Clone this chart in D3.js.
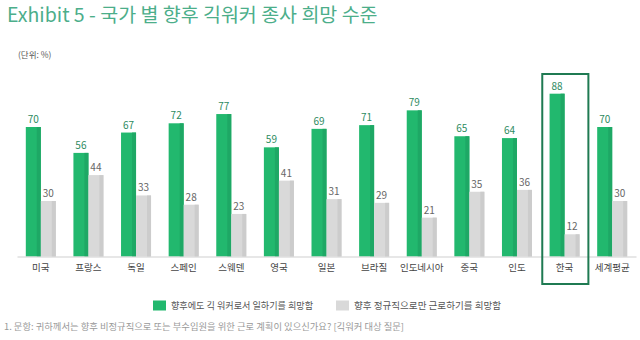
<!DOCTYPE html>
<html>
<head>
<meta charset="utf-8">
<script src="https://cdn.jsdelivr.net/npm/d3@7"></script>
<style>
  html, body { margin: 0; padding: 0; background: #fff; }
  svg { display: block; font-family: "Noto Sans CJK KR", "Noto Sans", sans-serif; }
</style>
</head>
<body>
<svg id="chart" width="640" height="340"></svg>
<script>
// Countries along the x axis
const categories = ["미국", "프랑스", "독일", "스페인", "스웨덴", "영국", "일본", "브라질", "인도네시아", "중국", "인도", "한국", "세계평균"];
// Share wishing to keep working as a gig worker (%)
const gigValues = [70, 56, 67, 72, 77, 59, 69, 71, 79, 65, 64, 88, 70];
// Share wishing to work only as a regular employee (%)
const regularValues = [30, 44, 33, 28, 23, 41, 31, 29, 21, 35, 36, 12, 30];
const seriesNames = ["향후에도 긱 워커로서 일하기를 희망함", "향후 정규직으로만 근로하기를 희망함"];
const highlighted = "한국";

const svg = d3.select("#chart");
const green = "#22b86e", greenDark = "#1ea865";
const gray = "#d9d9d9", grayDark = "#cccccc";

// Title and unit note
svg.append("text").attr("x", 7).attr("y", 22)
  .attr("font-size", 19.5).attr("fill", "#4cae8a")
  .text("Exhibit 5 - 국가 별 향후 긱워커 종사 희망 수준");
svg.append("text").attr("x", 18).attr("y", 58)
  .attr("font-size", 8.5).attr("fill", "#555")
  .text("(단위: %)");

const x = d3.scaleBand().domain(categories).range([17, 636]).paddingInner(0).paddingOuter(0);
const y = d3.scaleLinear().domain([0, 100]).range([256.5, 71.5]);
const barW = 15;

const series = [
  { name: seriesNames[0], values: gigValues, fill: green, edge: greenDark, label: "#2e8b5f", offset: -barW },
  { name: seriesNames[1], values: regularValues, fill: gray, edge: grayDark, label: "#666", offset: 0 }
];

series.forEach(s => {
  const g = svg.append("g");
  categories.forEach((c, i) => {
    const v = s.values[i];
    const bx = x(c) + x.bandwidth() / 2 + s.offset;
    g.append("rect").attr("x", bx).attr("y", y(v)).attr("width", barW).attr("height", y(0) - y(v)).attr("fill", s.fill);
    g.append("rect").attr("x", bx + barW - 4).attr("y", y(v)).attr("width", 4).attr("height", y(0) - y(v)).attr("fill", s.edge);
    g.append("text").attr("x", bx + barW / 2).attr("y", y(v) - 4)
      .attr("text-anchor", "middle").attr("font-size", 10).attr("fill", s.label)
      .text(v);
  });
});

// Baseline
const axis = d3.axisBottom(x).tickSize(0).tickPadding(8);
const ax = svg.append("g").attr("transform", `translate(0,${y(0)})`).call(axis);
ax.select(".domain").attr("stroke", "#cfcfcf").attr("stroke-width", 1.2);
ax.selectAll("text").attr("font-size", 9.5).attr("fill", "#444")
  .attr("font-family", "'Noto Sans CJK KR', sans-serif");

// Highlight frame around Korea
const hx = x(highlighted);
svg.append("rect").attr("x", hx + 1.5).attr("y", 74).attr("width", x.bandwidth() - 1.5).attr("height", 210)
  .attr("fill", "none").attr("stroke", "#1f7a52").attr("stroke-width", 2);

// Legend
const legend = [
  { label: seriesNames[0], color: green, x: 153, w: 142 },
  { label: seriesNames[1], color: gray, x: 336, w: 147 }
];
legend.forEach(l => {
  svg.append("rect").attr("x", l.x).attr("y", 300.5).attr("width", 13).attr("height", 10).attr("fill", l.color);
  svg.append("text").attr("x", l.x + 18).attr("y", 309).attr("font-size", 9.5).attr("fill", "#555")
    .attr("textLength", l.w).attr("lengthAdjust", "spacingAndGlyphs").text(l.label);
});

// Footnote
svg.append("text").attr("x", 4).attr("y", 329.5).attr("font-size", 9).attr("fill", "#999")
  .attr("textLength", 400).attr("lengthAdjust", "spacingAndGlyphs")
  .text("1. 문항: 귀하께서는 향후 비정규직으로 또는 부수입원을 위한 근로 계획이 있으신가요? [긱워커 대상 질문]");
</script>
</body>
</html>
